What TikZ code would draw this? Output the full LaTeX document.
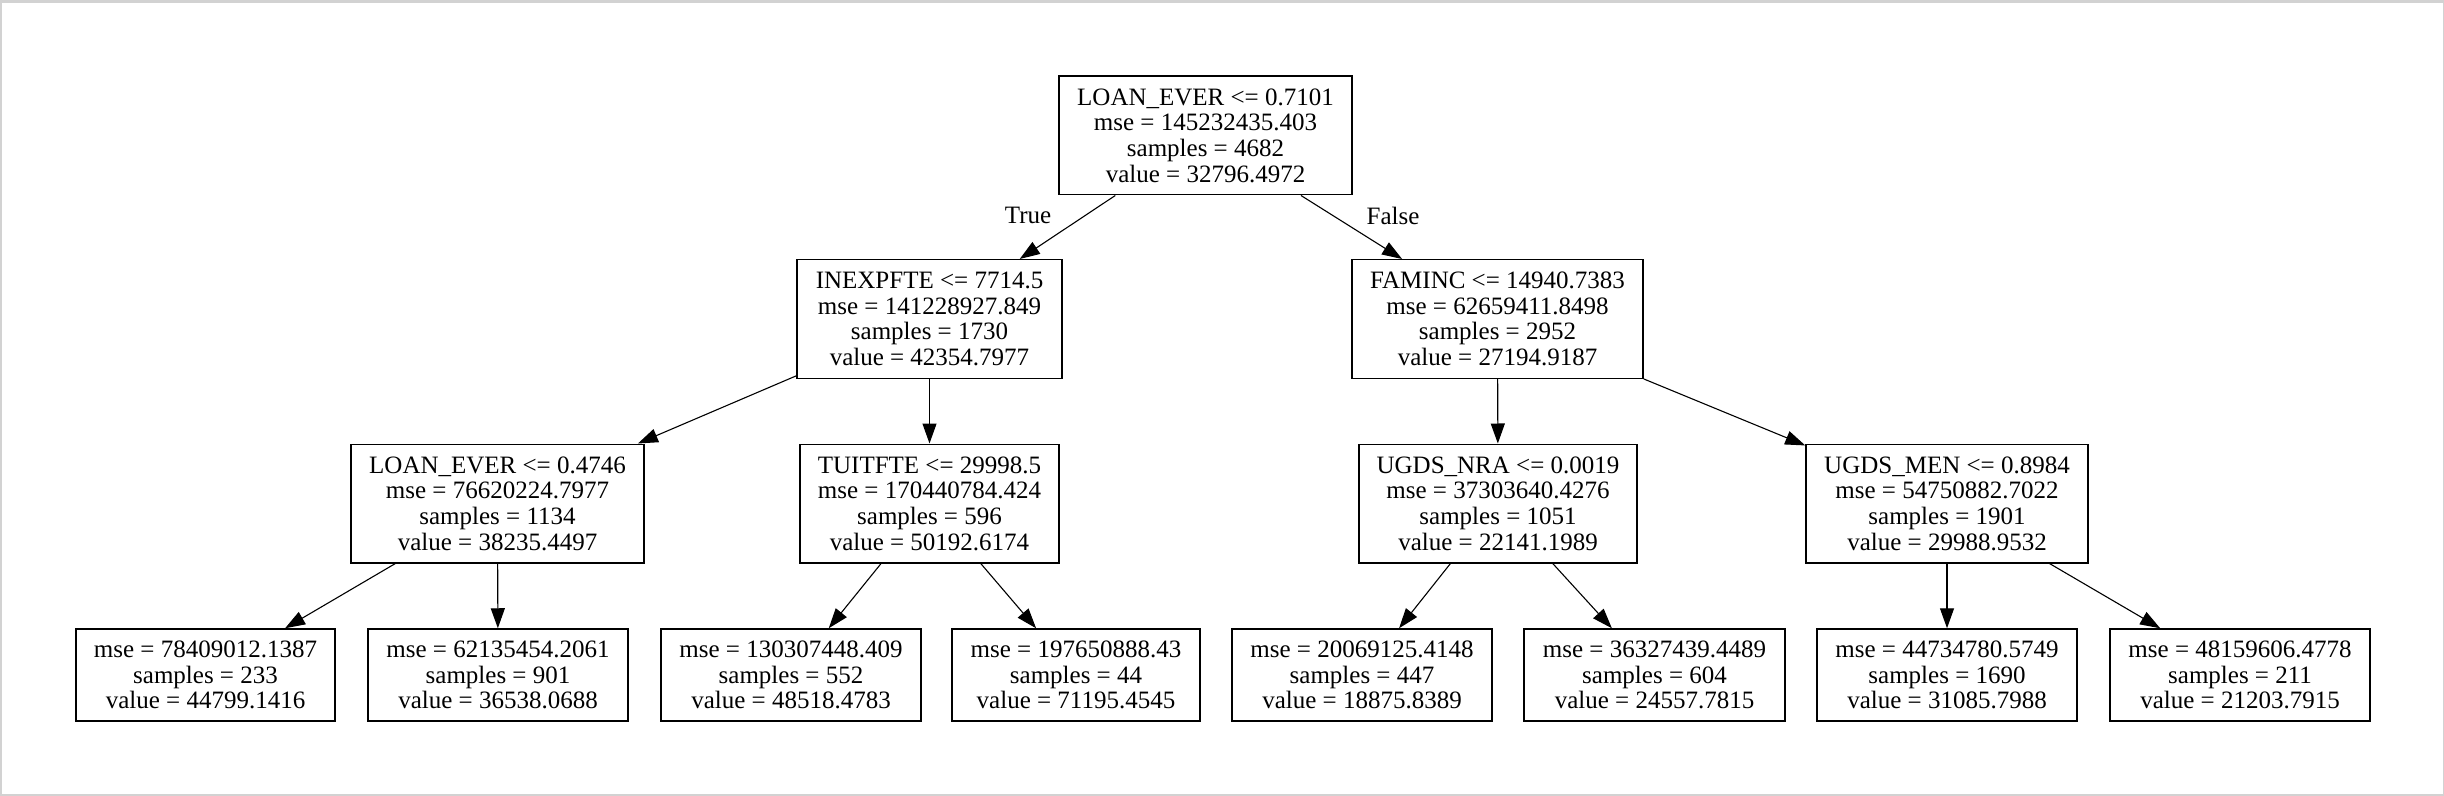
\documentclass[tikz,border=0pt]{standalone}
\usepackage{fontspec}
\newfontfamily\treefont{Liberation Serif}
\usetikzlibrary{arrows.meta}
\tikzset{
  tn/.style={draw, line width=0.75pt, inner sep=0pt, align=center, minimum height=59.25pt,
    font={\treefont\fontsize{12.5pt}{12.8pt}\selectfont}},
  leaf/.style={tn, minimum height=46pt},
  edge/.style={line width=0.55pt, -{Triangle[length=10pt,width=7pt]}},
  lbl/.style={inner sep=0pt, font={\treefont\fontsize{12.5pt}{12.8pt}\selectfont}}
}
\begin{document}
\begin{tikzpicture}[x=0.5pt,y=-0.5pt]
\useasboundingbox (0,0) rectangle (2444,796);
\fill[gray!35] (0,0) rectangle (2444,796);
\fill[white] (2,3) rectangle (2443,794);

\node[tn, minimum width=146.5pt] (n0) at (1205.5,135.5) {LOAN\_EVER <= 0.7101\\mse = 145232435.403\\samples = 4682\\value = 32796.4972};
\node[tn, minimum width=132.5pt] (n1) at (929.5,319) {INEXPFTE <= 7714.5\\mse = 141228927.849\\samples = 1730\\value = 42354.7977};
\node[tn, minimum width=145.5pt] (n2) at (1497.5,319) {FAMINC <= 14940.7383\\mse = 62659411.8498\\samples = 2952\\value = 27194.9187};
\node[tn, minimum width=146.5pt] (n3) at (497.5,503.5) {LOAN\_EVER <= 0.4746\\mse = 76620224.7977\\samples = 1134\\value = 38235.4497};
\node[tn, minimum width=129.5pt] (n4) at (929.5,503.5) {TUITFTE <= 29998.5\\mse = 170440784.424\\samples = 596\\value = 50192.6174};
\node[tn, minimum width=139pt] (n5) at (1498,503.5) {UGDS\_NRA <= 0.0019\\mse = 37303640.4276\\samples = 1051\\value = 22141.1989};
\node[tn, minimum width=141pt] (n6) at (1947,503.5) {UGDS\_MEN <= 0.8984\\mse = 54750882.7022\\samples = 1901\\value = 29988.9532};

\node[leaf, minimum width=129.5pt] (l1) at (205.5,675) {mse = 78409012.1387\\samples = 233\\value = 44799.1416};
\node[leaf, minimum width=130pt] (l2) at (498,675) {mse = 62135454.2061\\samples = 901\\value = 36538.0688};
\node[leaf, minimum width=130pt] (l3) at (791,675) {mse = 130307448.409\\samples = 552\\value = 48518.4783};
\node[leaf, minimum width=124pt] (l4) at (1076,675) {mse = 197650888.43\\samples = 44\\value = 71195.4545};
\node[leaf, minimum width=130pt] (l5) at (1362,675) {mse = 20069125.4148\\samples = 447\\value = 18875.8389};
\node[leaf, minimum width=130.5pt] (l6) at (1654.5,675) {mse = 36327439.4489\\samples = 604\\value = 24557.7815};
\node[leaf, minimum width=130pt] (l7) at (1947,675) {mse = 44734780.5749\\samples = 1690\\value = 31085.7988};
\node[leaf, minimum width=130pt] (l8) at (2240,675) {mse = 48159606.4778\\samples = 211\\value = 21203.7915};

\draw[edge] (n0) -- (n1);
\draw[edge] (n0) -- (n2);
\draw[edge] (n1) -- (n3);
\draw[edge] (n1) -- (n4);
\draw[edge] (n2) -- (n5);
\draw[edge] (n2) -- (n6);
\draw[edge] (n3) -- (l1);
\draw[edge] (n3) -- (l2);
\draw[edge] (n4) -- (l3);
\draw[edge] (n4) -- (l4);
\draw[edge] (n5) -- (l5);
\draw[edge] (n5) -- (l6);
\draw[edge] (n6) -- (l7);
\draw[edge] (n6) -- (l8);

\node[lbl] (t) at (1028,215) {True};
\node[lbl] (f) at (1393,216) {False};
\end{tikzpicture}
\end{document}
